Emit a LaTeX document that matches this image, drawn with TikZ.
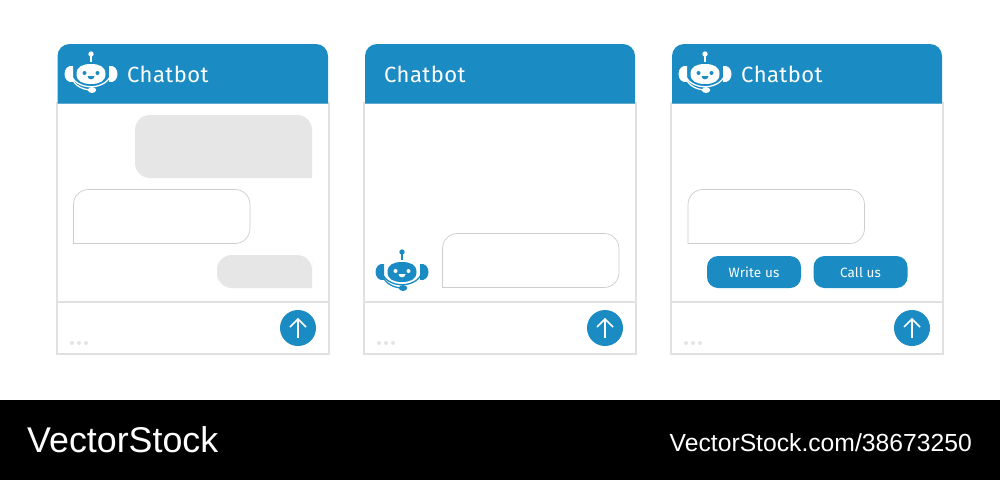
\documentclass[tikz,border=0pt]{standalone}
\usepackage{fontspec}
\setmainfont{Liberation Sans}
\newfontfamily\uifont[LetterSpace=2]{Fira Sans}
\newfontfamily\btnfont[LetterSpace=1]{Fira Sans}
\definecolor{botblue}{HTML}{1A8BC3}
\definecolor{frameline}{HTML}{E1E1E1}
\definecolor{bubblegray}{HTML}{E6E6E6}
\definecolor{bubbleline}{HTML}{CDCDCD}
\definecolor{dotgray}{HTML}{E4E4E4}
\tikzset{
	x=1pt, y=-1pt,
	window/.style={draw=frameline, line width=2pt, fill=white},
	divider/.style={draw=frameline, line width=1.5pt},
	header/.style={fill=botblue},
	graybubble/.style={fill=bubblegray},
	linebubble/.style={draw=bubbleline, line width=0.7pt, fill=white},
	title/.style={text=white, font=\uifont\fontsize{22}{23}\selectfont, anchor=west, inner sep=0pt},
	btn/.style={fill=botblue, rounded corners=11pt, minimum width=94pt, minimum height=32pt, inner sep=0pt, text=white, text height=10pt, text depth=0pt, font=\btnfont\fontsize{13.5}{14}\selectfont},
	sendbtn/.style={circle, fill=botblue, minimum size=36pt, inner sep=0pt},
	pics/robot/.style n args={2}{code={
		\draw[#1, line width=1.3pt] (-20,-1) arc[start angle=177, end angle=3, x radius=20, y radius=14.5];
		\draw[#1, line width=1.3pt] (-20,-1) .. controls (-20,9) and (-11,16) .. (1,16);
		\fill[#1] (-0.8,-20) rectangle (0.8,-12);
		\fill[#1] (0,-20) circle (2.7);
		\fill[#1] (1,16) ellipse (4.2 and 3);
		\fill[#1] (-18,-8) .. controls (-23,-9) and (-26.5,-5) .. (-26.5,0) .. controls (-26.5,5) and (-23,9) .. (-18,8) -- cycle;
		\fill[#1] (18,-8) .. controls (23,-9) and (26.5,-5) .. (26.5,0) .. controls (26.5,5) and (23,9) .. (18,8) -- cycle;
		\fill[#1] (-14.5,0) .. controls (-14.5,-7.5) and (-8,-10) .. (0,-10) .. controls (8,-10) and (14.5,-7.5) .. (14.5,0) .. controls (14.5,7.5) and (8,10) .. (0,10) .. controls (-8,10) and (-14.5,7.5) .. (-14.5,0) -- cycle;
		\fill[#2] (-6.5,-1) circle (2);
		\fill[#2] (6.5,-1) circle (2);
		\fill[#2] (-3.5,2) .. controls (-3,6.5) and (3,6.5) .. (3.5,2) -- cycle;
	}},
	pics/uparrow/.style={code={
		\draw[white, line width=1.7pt] (0,-9) -- (0,10);
		\draw[white, line width=1.7pt] (-8,-1) -- (0,-9) -- (8,-1);
	}},
	pics/moredots/.style={code={
		\fill[dotgray] (0,0) circle (2);
		\fill[dotgray] (7,0) circle (2);
		\fill[dotgray] (14,0) circle (2);
	}}
}
\begin{document}
\begin{tikzpicture}
	\useasboundingbox (0,0) rectangle (1000,480);
	\fill[white] (0,0) rectangle (1000,400);
	\fill[black] (0,400) rectangle (1000,480);

	% first window
	\draw[window] (57,103) rectangle (329,354);
	\draw[divider] (57,302) -- (329,302);
	\fill[header] (57.5,103.5) [rounded corners=12pt] -- (57.5,44) -- (328,44) [sharp corners] -- (328,60) -- (328,103.5) -- cycle;
	\pic at (91,74) {robot={white}{botblue}};
	\node[title] (titleA) at (127,74) {Chatbot};
	\fill[graybubble] (135,150) [rounded corners=15pt] -- (135,115) -- (312,115) -- (312,160) [sharp corners] -- (312,178) -- (300,178) [rounded corners=15pt] -- (135,178) -- cycle;
	\draw[linebubble] (73.5,225) [rounded corners=15pt] -- (73.5,189.5) -- (250,189.5) -- (250,243.5) -- (100,243.5) [sharp corners] -- (73.5,243.5) -- cycle;
	\fill[graybubble] (217,270) [rounded corners=15pt] -- (217,255) -- (312,255) -- (312,275) [sharp corners] -- (312,288) -- (300,288) [rounded corners=15pt] -- (217,288) -- cycle;
	\node[sendbtn] (sendA) at (298,328) {};
	\pic at (sendA) {uparrow};
	\pic at (72,343) {moredots};

	% second window
	\draw[window] (364,103) rectangle (636,354);
	\draw[divider] (364,302) -- (636,302);
	\fill[header] (365,103.5) [rounded corners=12pt] -- (365,44) -- (635,44) [sharp corners] -- (635,60) -- (635,103.5) -- cycle;
	\node[title] (titleB) at (384,74) {Chatbot};
	\pic at (402,272) {robot={botblue}{white}};
	\draw[linebubble] (442.5,270) [rounded corners=15pt] -- (442.5,233.5) -- (619,233.5) -- (619,287.5) -- (470,287.5) [sharp corners] -- (442.5,287.5) -- cycle;
	\node[sendbtn] (sendB) at (605,328) {};
	\pic at (sendB) {uparrow};
	\pic at (379,343) {moredots};

	% third window
	\draw[window] (671,103) rectangle (943,354);
	\draw[divider] (671,302) -- (943,302);
	\fill[header] (672,103.5) [rounded corners=12pt] -- (672,44) -- (942,44) [sharp corners] -- (942,60) -- (942,103.5) -- cycle;
	\pic at (705,74) {robot={white}{botblue}};
	\node[title] (titleC) at (741,74) {Chatbot};
	\draw[linebubble] (688,225) [rounded corners=15pt] -- (688,189.5) -- (864.5,189.5) -- (864.5,243.5) -- (715,243.5) [sharp corners] -- (688,243.5) -- cycle;
	\node[btn] (write) at (754,272) {Write us};
	\node[btn] (call) at (860.5,272) {Call us};
	\node[sendbtn] (sendC) at (912,328) {};
	\pic at (sendC) {uparrow};
	\pic at (686,343) {moredots};

	% footer
	\node[text=white, anchor=west, inner sep=0pt, font=\fontsize{35.8}{36}\selectfont] (brand) at (27,440) {VectorStock};
	\node[text=white, anchor=east, inner sep=0pt, font=\fontsize{24.7}{25}\selectfont] (stockid) at (972,443) {VectorStock.com/38673250};
\end{tikzpicture}
\end{document}
